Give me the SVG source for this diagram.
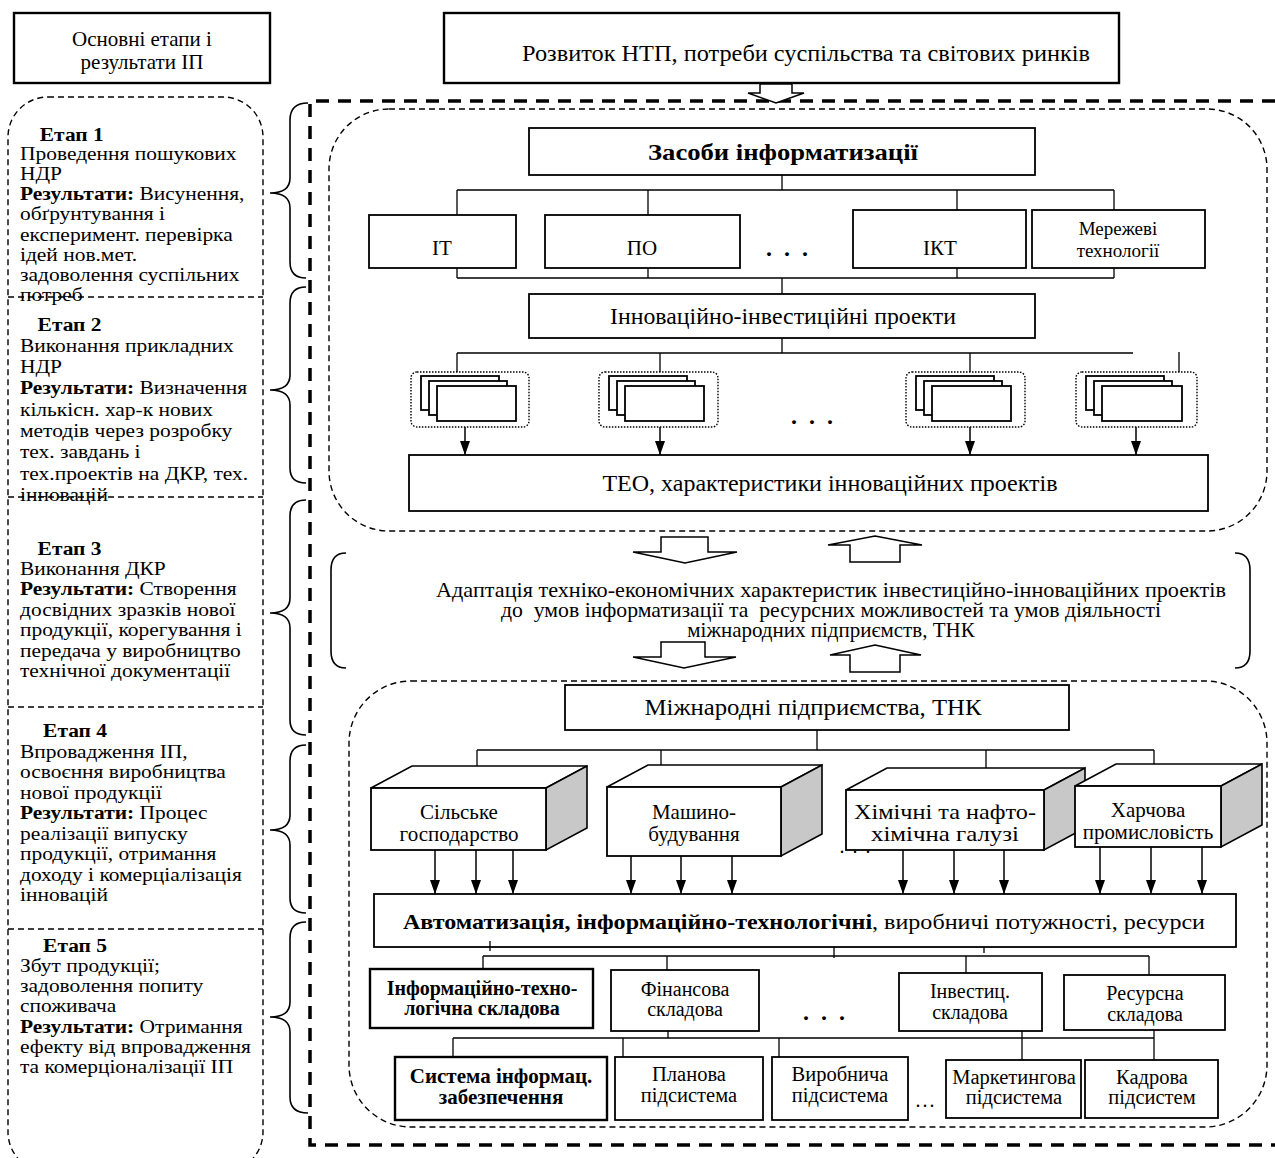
<svg xmlns="http://www.w3.org/2000/svg" width="1275" height="1158" viewBox="0 0 1275 1158">
  <style>
    text { font-family: "Liberation Serif", "Times New Roman", serif; fill: #000; }
    .box { fill: #fff; stroke: #000; stroke-width: 1.8; }
    .boxb { fill: #fff; stroke: #000; stroke-width: 2.4; }
    .ln { fill: none; stroke: #000; stroke-width: 1.3; }
    .arr { fill: none; stroke: #000; stroke-width: 1.5; marker-end: url(#ah); }
    .thin { fill: none; stroke: #000; stroke-width: 1.4; stroke-dasharray: 6 4; }
    .thick { fill: none; stroke: #000; stroke-width: 3.5; stroke-dasharray: 13 9; }
    .dot { fill: #fff; stroke: #000; stroke-width: 1.4; stroke-dasharray: 1.5 1.5; }
    .hol { fill: #fff; stroke: #000; stroke-width: 1.5; }
    .brace { fill: none; stroke: #000; stroke-width: 1.6; }
    .side { fill: #c8c8c8; stroke: #000; stroke-width: 1.6; }
    .top3 { fill: #fff; stroke: #000; stroke-width: 1.6; }
    .lt { font-size: 19.5px; }
    .c { text-anchor: middle; }
    .b { font-weight: bold; }
    .dots { font-size: 24px; font-weight: bold; letter-spacing: 12px; }
  </style>
  <defs>
    <marker id="ah" viewBox="0 0 14 10" refX="14" refY="5" markerWidth="14" markerHeight="10" markerUnits="userSpaceOnUse" orient="auto">
      <path d="M0,0 L14,5 L0,10 z" fill="#000"/>
    </marker>
  </defs>

  <!-- ===== left column: stages and results ===== -->
  <g id="stages-title">
    <rect class="boxb" x="14" y="13" width="256" height="70"/>
    <text class="c" x="142" y="46" font-size="21">Основні етапи і</text>
    <text class="c" x="142" y="69" font-size="21">результати ІП</text>
  </g>

  <g id="stages-column">
    <rect class="thin" x="8" y="97" width="255" height="1075" rx="40" ry="40"/>
    <line class="thin" x1="8" y1="297" x2="263" y2="297"/>
    <line class="thin" x1="8" y1="497" x2="263" y2="497"/>
    <line class="thin" x1="8" y1="707" x2="263" y2="707"/>
    <line class="thin" x1="8" y1="929" x2="263" y2="929"/>
  </g>

  <!-- stage texts are set a little wide: x=20 stays fixed, widths grow by 1.1 -->
  <g id="stage-1" class="lt" transform="translate(20,0) scale(1.1,1) translate(-20,0)">
    <text x="38" y="141" class="b">Етап 1</text>
    <text x="20" y="160">Проведення пошукових</text>
    <text x="20" y="180">НДР</text>
    <text x="20" y="200.5"><tspan class="b">Результати:</tspan> Висунення,</text>
    <text x="20" y="220.5">обґрунтування і</text>
    <text x="20" y="241">експеримент. перевірка</text>
    <text x="20" y="261">ідей нов.мет.</text>
    <text x="20" y="281">задоволення суспільних</text>
    <text x="20" y="301.5">потреб</text>
  </g>

  <g id="stage-2" class="lt" transform="translate(20,0) scale(1.1,1) translate(-20,0)">
    <text x="36" y="331" class="b">Етап 2</text>
    <text x="20" y="352">Виконання прикладних</text>
    <text x="20" y="373">НДР</text>
    <text x="20" y="394.5"><tspan class="b">Результати:</tspan> Визначення</text>
    <text x="20" y="416">кількісн. хар-к нових</text>
    <text x="20" y="437">методів через розробку</text>
    <text x="20" y="458.5">тех. завдань і</text>
    <text x="20" y="480">тех.проектів на ДКР, тех.</text>
    <text x="20" y="501">інновацій</text>
  </g>

  <g id="stage-3" class="lt" transform="translate(20,0) scale(1.1,1) translate(-20,0)">
    <text x="36" y="555" class="b">Етап 3</text>
    <text x="20" y="575">Виконання ДКР</text>
    <text x="20" y="595.5"><tspan class="b">Результати:</tspan> Створення</text>
    <text x="20" y="616">досвідних зразків нової</text>
    <text x="20" y="636.5">продукції, корегування і</text>
    <text x="20" y="657">передача у виробництво</text>
    <text x="20" y="677.5">технічної документації</text>
  </g>

  <g id="stage-4" class="lt" transform="translate(20,0) scale(1.1,1) translate(-20,0)">
    <text x="41" y="737" class="b">Етап 4</text>
    <text x="20" y="758">Впровадження ІП,</text>
    <text x="20" y="778.5">освоєння виробництва</text>
    <text x="20" y="799">нової продукції</text>
    <text x="20" y="819.5"><tspan class="b">Результати:</tspan> Процес</text>
    <text x="20" y="840">реалізації випуску</text>
    <text x="20" y="860.5">продукції, отримання</text>
    <text x="20" y="881">доходу і комерціалізація</text>
    <text x="20" y="901.5">інновацій</text>
  </g>

  <g id="stage-5" class="lt" transform="translate(20,0) scale(1.1,1) translate(-20,0)">
    <text x="41" y="952" class="b">Етап 5</text>
    <text x="20" y="972">Збут продукції;</text>
    <text x="20" y="992">задоволення попиту</text>
    <text x="20" y="1012.5">споживача</text>
    <text x="20" y="1033"><tspan class="b">Результати:</tspan> Отримання</text>
    <text x="20" y="1053">ефекту від впровадження</text>
    <text x="20" y="1073">та комерціоналізації ІП</text>
  </g>

  <!-- curly braces tying stages to the scheme -->
  <g id="braces">
    <path class="brace" d="M308,103 Q290,103 290,120 L290,178 Q290,193 270,193 Q290,193 290,208 L290,262 Q290,278 306,278"/>
    <path class="brace" d="M306,287 Q290,287 290,303 L290,375 Q290,390 270,390 Q290,390 290,405 L290,468 Q290,483 306,483"/>
    <path class="brace" d="M306,500 Q290,500 290,516 L290,598 Q290,613 270,613 Q290,613 290,628 L290,720 Q290,735 306,735"/>
    <path class="brace" d="M306,745 Q290,745 290,761 L290,815 Q290,830 270,830 Q290,830 290,845 L290,898 Q290,913 306,913"/>
    <path class="brace" d="M306,922 Q290,922 290,938 L290,1002 Q290,1017 270,1017 Q290,1017 290,1032 L290,1097 Q290,1113 308,1113"/>
  </g>

  <!-- ===== main scheme ===== -->
  <g id="drivers">
    <rect class="boxb" x="444" y="13" width="675" height="70"/>
    <text class="c" x="806" y="61" font-size="24" textLength="568" lengthAdjust="spacingAndGlyphs">Розвиток НТП, потреби суспільства та світових ринків</text>
  </g>

  <g id="frame">
    <path class="thick" d="M1275,101 L310,101 L310,1145 L1275,1145"/>
  </g>

  <g id="section-informatization">
    <rect class="thin" x="329" y="109" width="938" height="422" rx="60" ry="60"/>
  </g>

  <g id="tools">
    <rect class="box" x="529" y="128" width="506" height="47"/>
    <text class="c b" x="783" y="160" font-size="24" textLength="270" lengthAdjust="spacingAndGlyphs">Засоби інформатизації</text>
  </g>
  <g id="it">
    <rect class="box" x="369" y="215" width="147" height="53"/>
    <text class="c" x="442" y="255" font-size="21">IT</text>
  </g>
  <g id="software">
    <rect class="box" x="545" y="215" width="195" height="53"/>
    <text class="c" x="642" y="255" font-size="21">ПО</text>
  </g>
  <text class="c dots" x="793" y="256">...</text>
  <g id="ict">
    <rect class="box" x="853" y="210" width="173" height="58"/>
    <text class="c" x="940" y="255" font-size="21">ІКТ</text>
  </g>
  <g id="network">
    <rect class="box" x="1032" y="210" width="173" height="58"/>
    <text class="c" x="1118" y="235" font-size="19">Мережеві</text>
    <text class="c" x="1118" y="257" font-size="19">технології</text>
  </g>

  <g id="projects">
    <rect class="box" x="529" y="294" width="506" height="44"/>
    <text class="c" x="783" y="324" font-size="23" textLength="346" lengthAdjust="spacingAndGlyphs">Інноваційно-інвестиційні проекти</text>
  </g>

  <g id="project-set-1">
    <rect class="dot" x="411" y="372" width="118" height="55" rx="6"/>
    <rect class="box" x="421" y="376" width="78" height="34"/>
    <rect class="box" x="429" y="381" width="78" height="34"/>
    <rect class="box" x="437" y="386" width="79" height="35"/>
  </g>
  <g id="project-set-2">
    <rect class="dot" x="599" y="372" width="119" height="55" rx="6"/>
    <rect class="box" x="609" y="376" width="78" height="34"/>
    <rect class="box" x="617" y="381" width="78" height="34"/>
    <rect class="box" x="625" y="386" width="79" height="35"/>
  </g>
  <text class="c dots" x="818" y="424">...</text>
  <g id="project-set-3">
    <rect class="dot" x="906" y="372" width="119" height="55" rx="6"/>
    <rect class="box" x="916" y="376" width="78" height="34"/>
    <rect class="box" x="924" y="381" width="78" height="34"/>
    <rect class="box" x="932" y="386" width="79" height="35"/>
  </g>
  <g id="project-set-4">
    <rect class="dot" x="1076" y="372" width="121" height="55" rx="6"/>
    <rect class="box" x="1086" y="376" width="78" height="34"/>
    <rect class="box" x="1094" y="381" width="78" height="34"/>
    <rect class="box" x="1102" y="386" width="80" height="35"/>
  </g>

  <g id="feasibility">
    <rect class="box" x="409" y="455" width="799" height="56"/>
    <text class="c" x="830" y="491" font-size="24">ТЕО, характеристики інноваційних проектів</text>
  </g>

  <g id="adaptation">
    <path class="brace" d="M346,553 Q331,553 331,570 L331,651 Q331,668 346,668"/>
    <path class="brace" d="M1235,553 Q1250,553 1250,570 L1250,651 Q1250,668 1235,668"/>
    <text class="c" x="831" y="597" font-size="21" textLength="790" lengthAdjust="spacingAndGlyphs">Адаптація техніко-економічних характеристик інвестиційно-інноваційних проектів</text>
    <text class="c" x="831" y="617" font-size="21" textLength="660" lengthAdjust="spacingAndGlyphs" xml:space="preserve">до  умов інформатизації та  ресурсних можливостей та умов діяльності</text>
    <text class="c" x="831" y="637" font-size="21">міжнародних підприємств, ТНК</text>
  </g>

  <g id="section-enterprises">
    <rect class="thin" x="349" y="681" width="918" height="446" rx="62" ry="62"/>
  </g>

  <g id="enterprises">
    <rect class="box" x="565" y="685" width="504" height="45"/>
    <text class="c" x="813" y="715" font-size="23" textLength="337" lengthAdjust="spacingAndGlyphs">Міжнародні підприємства, ТНК</text>
  </g>

  <g id="agriculture">
    <polygon class="top3" points="371,788 412,766 587,766 546,788"/>
    <polygon class="side" points="546,788 587,766 587,828 546,850"/>
    <rect class="box" x="371" y="788" width="175" height="62"/>
    <text class="c" x="459" y="819" font-size="21">Сільське</text>
    <text class="c" x="459" y="841" font-size="21">господарство</text>
  </g>
  <g id="machinery">
    <polygon class="top3" points="607,787 648,765 822,765 781,787"/>
    <polygon class="side" points="781,787 822,765 822,834 781,856"/>
    <rect class="box" x="607" y="787" width="174" height="69"/>
    <text class="c" x="694" y="819" font-size="21">Машино-</text>
    <text class="c" x="694" y="841" font-size="21">будування</text>
  </g>
  <text class="c" x="859" y="853" font-size="20" letter-spacing="8">...</text>
  <g id="chemistry">
    <polygon class="top3" points="846,790 887,768 1085,768 1044,790"/>
    <polygon class="side" points="1044,790 1085,768 1085,828 1044,850"/>
    <rect class="box" x="846" y="790" width="198" height="60"/>
    <text class="c" x="945" y="819" font-size="22" textLength="182" lengthAdjust="spacingAndGlyphs">Хімічні та нафто-</text>
    <text class="c" x="945" y="841" font-size="22" textLength="148" lengthAdjust="spacingAndGlyphs">хімічна галузі</text>
  </g>
  <g id="food">
    <polygon class="top3" points="1075,786 1116,764 1262,764 1221,786"/>
    <polygon class="side" points="1221,786 1262,764 1262,825 1221,847"/>
    <rect class="box" x="1075" y="786" width="146" height="61"/>
    <text class="c" x="1148" y="817" font-size="21">Харчова</text>
    <text class="c" x="1148" y="839" font-size="21">промисловість</text>
  </g>

  <g id="capacities">
    <rect class="box" x="374" y="894" width="862" height="53"/>
    <text class="c" x="804" y="929" font-size="22" textLength="802" lengthAdjust="spacingAndGlyphs"><tspan class="b">Автоматизація, інформаційно-технологічні</tspan>, виробничі потужності, ресурси</text>
  </g>

  <g id="it-component">
    <rect class="boxb" x="370" y="969" width="223" height="59"/>
    <text class="c b" x="482" y="995" font-size="20">Інформаційно-техно-</text>
    <text class="c b" x="482" y="1015" font-size="20">логічна складова</text>
  </g>
  <g id="finance-component">
    <rect class="box" x="611" y="970" width="148" height="61"/>
    <text class="c" x="685" y="996" font-size="20">Фінансова</text>
    <text class="c" x="685" y="1016" font-size="20">складова</text>
  </g>
  <text class="c dots" x="830" y="1020">...</text>
  <g id="invest-component">
    <rect class="box" x="899" y="973" width="143" height="58"/>
    <text class="c" x="970" y="998" font-size="20">Інвестиц.</text>
    <text class="c" x="970" y="1019" font-size="20">складова</text>
  </g>
  <g id="resource-component">
    <rect class="box" x="1064" y="975" width="161" height="55"/>
    <text class="c" x="1145" y="1000" font-size="20">Ресурсна</text>
    <text class="c" x="1145" y="1021" font-size="20">складова</text>
  </g>

  <g id="info-support">
    <rect class="boxb" x="395" y="1057" width="212" height="63"/>
    <text class="c b" x="501" y="1083" font-size="21">Система інформац.</text>
    <text class="c b" x="501" y="1104" font-size="21">забезпечення</text>
  </g>
  <g id="planning">
    <rect class="box" x="615" y="1057" width="148" height="63"/>
    <text class="c" x="689" y="1081" font-size="20.5">Планова</text>
    <text class="c" x="689" y="1102" font-size="20.5">підсистема</text>
  </g>
  <g id="production">
    <rect class="box" x="772" y="1057" width="136" height="63"/>
    <text class="c" x="840" y="1081" font-size="20.5">Виробнича</text>
    <text class="c" x="840" y="1102" font-size="20.5">підсистема</text>
  </g>
  <text class="c" x="926" y="1107" font-size="20" letter-spacing="2">...</text>
  <g id="marketing">
    <rect class="box" x="946" y="1060" width="135" height="58"/>
    <text class="c" x="1014" y="1084" font-size="20.5">Маркетингова</text>
    <text class="c" x="1014" y="1104" font-size="20.5">підсистема</text>
  </g>
  <g id="personnel">
    <rect class="box" x="1085" y="1060" width="133" height="58"/>
    <text class="c" x="1152" y="1084" font-size="20.5">Кадрова</text>
    <text class="c" x="1152" y="1104" font-size="20.5">підсистем</text>
  </g>

  <!-- ===== connectors ===== -->
  <g id="connectors">
    <!-- wide hollow arrows -->
    <polygon class="hol" points="760,84 792,84 792,93 804,93 776,103 748,93 760,93"/>
    <polygon class="hol" points="661,537 708,537 708,552 737,552 685,563 633,552 661,552"/>
    <polygon class="hol" points="875,536 922,545 900,545 900,562 850,562 850,545 828,545"/>
    <polygon class="hol" points="661,642 705,642 705,657 736,657 684,668 633,657 661,657"/>
    <polygon class="hol" points="875,645 921,655 900,655 900,672 850,672 850,655 830,655"/>

    <!-- tools to technology boxes -->
    <path class="ln" d="M782,175 V190 M457,190 H1114 M457,190 V215 M648,190 V215 M957,190 V210 M1114,190 V210"/>
    <path class="ln" d="M457,268 V278 M648,268 V278 M957,268 V278 M1114,268 V278 M457,278 H1114 M782,278 V294"/>
    <!-- projects to project sets -->
    <path class="ln" d="M782,338 V353 M457,353 H1133 M457,353 V372 M660,353 V372 M970,353 V372 M1179,352 V372"/>
    <line class="arr" x1="465" y1="427" x2="465" y2="455"/>
    <line class="arr" x1="660" y1="427" x2="660" y2="455"/>
    <line class="arr" x1="970" y1="427" x2="970" y2="455"/>
    <line class="arr" x1="1136" y1="427" x2="1136" y2="455"/>

    <!-- enterprises to industries -->
    <path class="ln" d="M817,730 V750 M477,750 H1154 M477,750 V766 M661,750 V765 M986,750 V768 M1154,750 V764"/>
    <line class="arr" x1="435" y1="850" x2="435" y2="894"/>
    <line class="arr" x1="476" y1="850" x2="476" y2="894"/>
    <line class="arr" x1="513" y1="850" x2="513" y2="894"/>
    <line class="arr" x1="631" y1="856" x2="631" y2="894"/>
    <line class="arr" x1="681" y1="856" x2="681" y2="894"/>
    <line class="arr" x1="732" y1="856" x2="732" y2="894"/>
    <line class="arr" x1="903" y1="850" x2="903" y2="894"/>
    <line class="arr" x1="954" y1="850" x2="954" y2="894"/>
    <line class="arr" x1="1004" y1="850" x2="1004" y2="894"/>
    <line class="arr" x1="1100" y1="847" x2="1100" y2="894"/>
    <line class="arr" x1="1151" y1="847" x2="1151" y2="894"/>
    <line class="arr" x1="1202" y1="847" x2="1202" y2="894"/>

    <!-- capacities to components -->
    <path class="ln" d="M834,947 V958 M984,947 V953 M490,941 V951 M483,956 H1149 M483,956 V969 M667,956 V970 M966,956 V973 M1149,956 V975"/>
    <!-- components to subsystems -->
    <path class="ln" d="M668,1031 V1038 M453,1038 H1154 M453,1038 V1057 M623,1038 V1057 M779,1038 V1057 M1022,1031 V1060 M1154,1030 V1060"/>
  </g>
</svg>
